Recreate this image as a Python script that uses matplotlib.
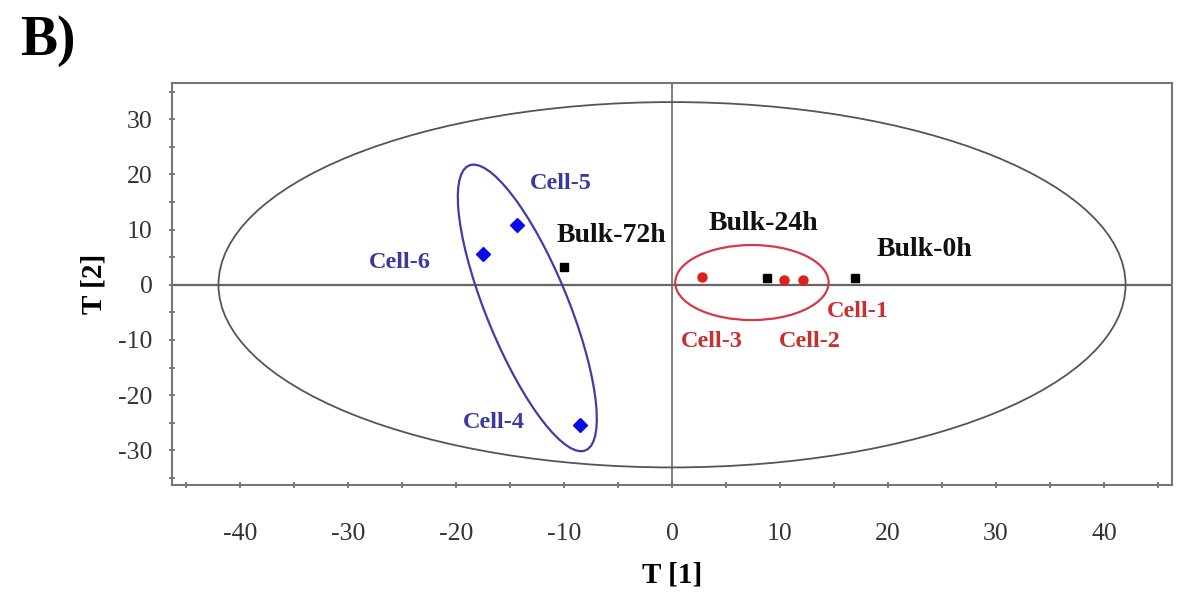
#!/usr/bin/env python3
"""PCA score plot (T[1] vs T[2]) of single cells and bulk samples."""

import matplotlib
matplotlib.use("Agg")
import matplotlib.pyplot as plt
import numpy as np
from matplotlib.patches import Ellipse
from matplotlib.ticker import MultipleLocator

# scores
cell_blue_names = ["Cell-4", "Cell-5", "Cell-6"]
cell_blue_t1 = [-8.5, -14.4, -17.5]
cell_blue_t2 = [-25.4, 10.9, 5.6]

cell_red_names = ["Cell-1", "Cell-2", "Cell-3"]
cell_red_t1 = [12.1, 10.4, 2.8]
cell_red_t2 = [0.9, 0.9, 1.4]

bulk_names = ["Bulk-0h", "Bulk-24h", "Bulk-72h"]
bulk_t1 = [16.9, 8.8, -10.0]
bulk_t2 = [1.3, 1.2, 3.2]

# label anchors (data units)
label_pos = {
    "Cell-4": (-16.5, -24.9),
    "Cell-5": (-10.3, 18.4),
    "Cell-6": (-25.2, 4.1),
    "Cell-1": (17.2, -4.8),
    "Cell-2": (12.8, -10.3),
    "Cell-3": (3.7, -10.3),
    "Bulk-0h": (23.4, 6.4),
    "Bulk-24h": (8.5, 11.1),
    "Bulk-72h": (-5.6, 9.0),
}

# Hotelling ellipse and group ellipses
hotelling_axes = (42.0, 33.1)
red_center = (7.4, 0.4)
red_axes = (7.1, 6.8)
blue_center = (-13.4, -4.2)
blue_major = (5.4, -25.8)
blue_minor = (3.5, 2.9)

BLUE = "#0a0ae6"
BLUE_LINE = "#3e3ea6"
BLUE_TEXT = "#3a3a9e"
RED = "#e01e1e"
RED_LINE = "#d23a4a"
RED_TEXT = "#c83030"
GREY = "#666666"


def ellipse_from_vectors(center, u, v, **kw):
    a = np.column_stack([u, v])
    uu, s, _ = np.linalg.svd(a)
    angle = np.degrees(np.arctan2(uu[1, 0], uu[0, 0]))
    return Ellipse(center, 2 * s[0], 2 * s[1], angle=angle, fill=False, **kw)


def main() -> int:
    plt.rcParams["font.family"] = ["Liberation Serif", "DejaVu Serif"]
    plt.rcParams["axes.unicode_minus"] = False
    fig = plt.figure(figsize=(11.8, 5.93), dpi=100)
    ax = fig.add_axes([0.1458, 0.182, 0.8474, 0.6775])

    ax.set_xlim(-46.3, 46.3)
    ax.set_ylim(-36.3, 36.5)

    ax.axhline(0, color=GREY, lw=1.6, zorder=1)
    ax.axvline(0, color=GREY, lw=1.2, zorder=1)

    ax.add_patch(Ellipse((0, 0), 2 * hotelling_axes[0], 2 * hotelling_axes[1],
                         fill=False, ec="#555555", lw=1.3, zorder=2))
    ax.add_patch(Ellipse(red_center, 2 * red_axes[0], 2 * red_axes[1],
                         fill=False, ec=RED_LINE, lw=1.6, zorder=2))
    ax.add_patch(ellipse_from_vectors(blue_center, blue_major, blue_minor,
                                      ec=BLUE_LINE, lw=1.6, zorder=2))

    ax.plot(cell_blue_t1, cell_blue_t2, "D", color=BLUE, ms=7.5, ls="none", zorder=3)
    ax.plot(cell_red_t1, cell_red_t2, "o", color=RED, ms=6.5, ls="none", zorder=3)
    ax.plot(bulk_t1, bulk_t2, "s", color="black", ms=6, ls="none", zorder=3)

    for name in cell_blue_names:
        ax.text(*label_pos[name], name, color=BLUE_TEXT, fontsize=17.5,
                fontweight="bold", ha="center", va="center")
    for name in cell_red_names:
        ax.text(*label_pos[name], name, color=RED_TEXT, fontsize=17.5,
                fontweight="bold", ha="center", va="center")
    for name in bulk_names:
        ax.text(*label_pos[name], name, color="#111111", fontsize=20,
                fontweight="bold", ha="center", va="center")

    ax.xaxis.set_major_locator(MultipleLocator(10))
    ax.xaxis.set_minor_locator(MultipleLocator(5))
    ax.yaxis.set_major_locator(MultipleLocator(10))
    ax.yaxis.set_minor_locator(MultipleLocator(5))
    ax.tick_params(which="both", direction="inout", length=4, width=1.2,
                   color=GREY, labelcolor="#333333", labelsize=18.5)
    ax.tick_params(axis="x", which="major", pad=25)
    ax.tick_params(axis="y", which="major", pad=12)
    for spine in ax.spines.values():
        spine.set_color("#777777")
        spine.set_linewidth(1.5)

    ax.set_xlabel("T [1]", fontsize=21, fontweight="bold", labelpad=12)
    ax.set_ylabel("T [2]", fontsize=21, fontweight="bold", labelpad=8)

    fig.text(0.017, 0.907, "B)", fontsize=40, fontweight="bold", ha="left",
             va="baseline")

    fig.savefig("out.png", dpi=100)
    return 0


if __name__ == "__main__":
    raise SystemExit(main())
